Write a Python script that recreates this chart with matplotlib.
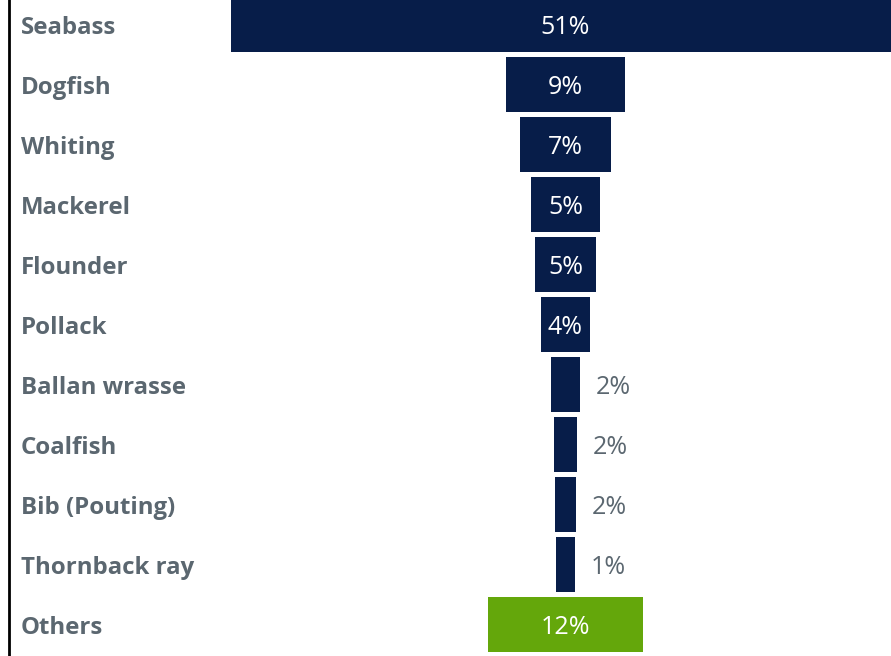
import matplotlib
matplotlib.use("Agg")
import matplotlib.pyplot as plt
import matplotlib.transforms as mtransforms

categories = ["Seabass", "Dogfish", "Whiting", "Mackerel", "Flounder", "Pollack",
              "Ballan wrasse", "Coalfish", "Bib (Pouting)", "Thornback ray", "Others"]
values = [51, 9.1, 6.9, 5.3, 4.7, 3.75, 2.2, 1.7, 1.6, 1.45, 11.8]
labels = ["51%", "9%", "7%", "5%", "5%", "4%", "2%", "2%", "2%", "1%", "12%"]

NAVY = "#071d49"
GREEN = "#64a70b"
GREY = "#5b6770"
colors = [NAVY] * (len(categories) - 1) + [GREEN]

W, H, DPI = 891, 656, 100
fig = plt.figure(figsize=(W / DPI, H / DPI), dpi=DPI)
ax_left_px = 9
ax = fig.add_axes([ax_left_px / W, 0, 1 - ax_left_px / W, 1])

px_per_unit = 13.1
center_px = 565.5
xmin = (ax_left_px - center_px) / px_per_unit
xmax = (W - center_px) / px_per_unit
ax.set_xlim(xmin, xmax)

row_px = 60.0
first_center_px = 24.5
ax.set_ylim((H - first_center_px) / row_px, -first_center_px / row_px)

ypos = list(range(len(categories)))
ax.barh(ypos, values, left=[-v / 2 for v in values], height=55 / 60,
        color=colors, edgecolor="none")

for spine in ["top", "right", "bottom"]:
    ax.spines[spine].set_visible(False)
ax.spines["left"].set_linewidth(2)
ax.spines["left"].set_color("black")
ax.set_xticks([])
ax.set_yticks([])

font = "Open Sans"
dy = -2.3  # points, nudge text down to visual center
trans = mtransforms.blended_transform_factory(fig.transFigure, ax.transData)
for y, cat in zip(ypos, categories):
    ax.annotate(cat, xy=(21 / W, y), xycoords=trans, xytext=(0, dy),
                textcoords="offset points", ha="left", va="center",
                fontsize=17.3, fontweight="bold", color=GREY, family=font)

for y, v, lab in zip(ypos, values, labels):
    if v >= 3:
        ax.annotate(lab, xy=(0, y), xytext=(0, dy), textcoords="offset points",
                    ha="center", va="center", fontsize=18, color="white", family=font)
    else:
        ax.annotate(lab, xy=(v / 2, y), xytext=(11.5, dy), textcoords="offset points",
                    ha="left", va="center", fontsize=18, color=GREY, family=font)

fig.savefig("out.png", dpi=DPI)
